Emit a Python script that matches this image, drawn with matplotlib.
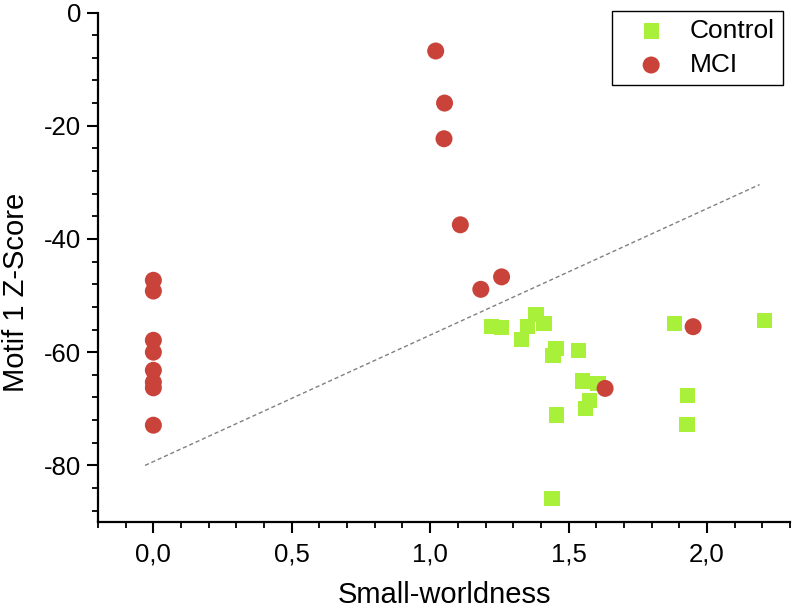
import matplotlib
matplotlib.use('Agg')
import matplotlib.pyplot as plt
from matplotlib.ticker import MultipleLocator, FuncFormatter

plt.rcParams['font.family'] = ['Liberation Sans', 'DejaVu Sans']

# Control group (green squares)
control_x = [1.223, 1.258, 1.382, 1.353, 1.411, 1.331, 1.455, 1.444, 1.536, 1.551,
             1.606, 1.577, 1.560, 1.456, 1.440, 1.882, 2.208, 1.931, 1.928]
control_y = [-55.4, -55.6, -53.4, -55.4, -55.0, -57.7, -59.3, -60.6, -59.7, -65.1,
             -65.6, -68.6, -69.9, -71.1, -85.8, -55.0, -54.4, -67.6, -72.8]

# MCI group (red circles)
mci_x = [0.0, 0.0, 0.0, 0.0, 0.0, 0.0, 0.0, 0.0,
         1.02, 1.052, 1.05, 1.109, 1.258, 1.183, 1.95, 1.632]
mci_y = [-47.3, -49.2, -57.9, -60.0, -63.2, -65.3, -66.3, -72.9,
         -6.8, -16.0, -22.3, -37.5, -46.7, -48.9, -55.5, -66.4]

# dashed separating line
line_x = [-0.03, 2.19]
line_y = [-80.0, -30.4]

fig = plt.figure(figsize=(7.93, 6.10), dpi=100)
ax = fig.add_axes([98 / 793, 1 - 522 / 610, 692 / 793, (522 - 12.5) / 610])

ax.plot(line_x, line_y, '--', color='#808080', lw=1.0, dashes=(3, 2), zorder=1)
ax.scatter(control_x, control_y, marker='s', s=120, color='#A8F03A',
           edgecolors='none', label='Control', zorder=2)
ax.scatter(mci_x, mci_y, marker='o', s=150, color='#C9433A',
           edgecolors='none', label='MCI', zorder=3)

ax.set_xlim(-0.2, 2.3)
ax.set_ylim(-90, 0)

ax.spines['top'].set_visible(False)
ax.spines['right'].set_visible(False)
ax.spines['left'].set_linewidth(1.6)
ax.spines['bottom'].set_linewidth(1.6)

ax.xaxis.set_major_locator(MultipleLocator(0.5))
ax.xaxis.set_minor_locator(MultipleLocator(0.1))
ax.yaxis.set_major_locator(MultipleLocator(20))
ax.yaxis.set_minor_locator(MultipleLocator(4))
ax.xaxis.set_major_formatter(FuncFormatter(lambda v, p: ('%.1f' % v).replace('.', ',')))
ax.yaxis.set_major_formatter(FuncFormatter(lambda v, p: '%d' % round(v)))

ax.tick_params(axis='both', which='major', direction='out', length=8, width=1.5,
               labelsize=18.5)
ax.tick_params(axis='x', which='major', pad=7)
ax.tick_params(axis='y', which='major', pad=4)
ax.tick_params(axis='both', which='minor', direction='out', length=4, width=1.3)

ax.set_xlabel('Small-worldness', fontsize=21, labelpad=10)
ax.set_ylabel('Motif 1 Z-Score', fontsize=21)
ax.yaxis.set_label_coords(-0.098, 0.451)

leg = ax.legend(loc='upper right', bbox_to_anchor=(783 / 793, 1 - 11 / 610),
                bbox_transform=fig.transFigure, borderaxespad=0, fontsize=19,
                fancybox=False, edgecolor='black', framealpha=1,
                handletextpad=0.3, labelspacing=0.38, borderpad=0.3,
                handlelength=2.35, scatterpoints=1)
leg.get_frame().set_linewidth(1.0)

fig.savefig('out.png', dpi=100)
